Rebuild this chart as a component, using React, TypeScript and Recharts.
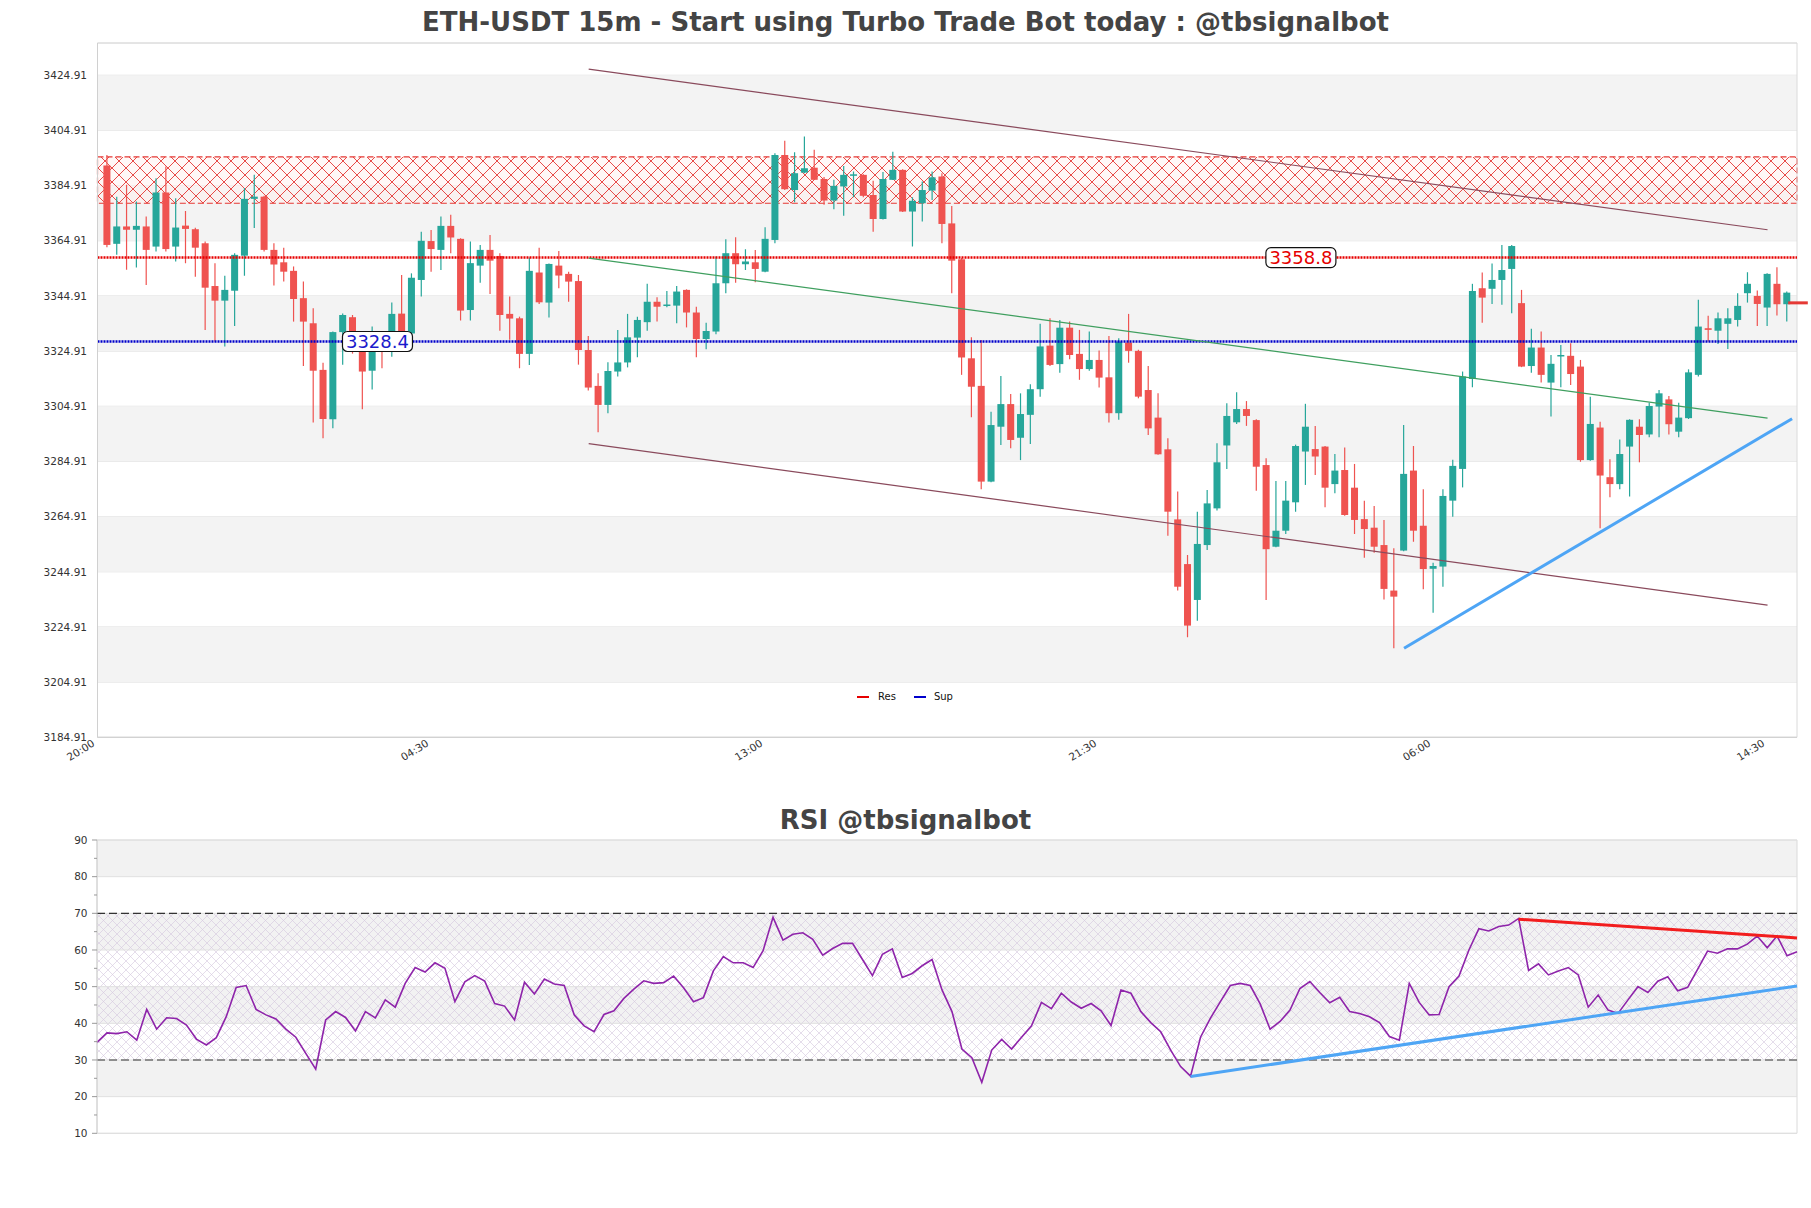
import React from "react";
import {
  ComposedChart,
  Bar,
  Line,
  XAxis,
  YAxis,
  CartesianGrid,
  ReferenceArea,
  ReferenceLine,
  ReferenceDot,
} from "recharts";

// ---- price data (15m candles, index 1..172) ----
const opens = [
  3392.2, 3363.8, 3370.1, 3368.9, 3370.1, 3362.8, 3382.4, 3362.8, 3370.4, 3369.1,
  3364.0, 3348.5, 3343.2, 3346.8, 3359.5, 3380.1, 3380.9, 3361.6, 3357.1, 3354.0,
  3344.1, 3335.0, 3318.1, 3300.2, 3331.8, 3337.2, 3326.0, 3317.8, 3327.2, 3325.6,
  3338.5, 3331.3, 3350.7, 3364.8, 3361.6, 3370.3, 3365.6, 3339.8, 3355.9, 3361.6,
  3359.4, 3338.4, 3336.8, 3323.9, 3353.4, 3342.5, 3355.9, 3352.9, 3350.3, 3325.3,
  3312.3, 3305.4, 3317.5, 3320.8, 3329.8, 3335.4, 3342.8, 3341.5, 3341.4, 3347.1,
  3338.9, 3329.3, 3332.0, 3349.5, 3360.4, 3356.4, 3357.1, 3353.7, 3365.2, 3396.0,
  3383.3, 3389.6, 3391.4, 3387.3, 3379.5, 3384.6, 3388.6, 3388.8, 3381.5, 3372.8,
  3387.0, 3390.6, 3375.5, 3378.5, 3383.1, 3388.2, 3371.2, 3358.2, 3322.3, 3312.3,
  3277.6, 3297.5, 3305.7, 3293.5, 3301.8, 3311.1, 3326.9, 3320.2, 3333.4, 3323.9,
  3318.4, 3321.7, 3315.4, 3302.4, 3328.0, 3325.0, 3310.8, 3300.8, 3289.3, 3263.9,
  3247.7, 3234.7, 3254.6, 3267.9, 3290.7, 3299.1, 3303.9, 3299.9, 3283.6, 3254.0,
  3259.8, 3270.1, 3288.5, 3289.4, 3290.3, 3276.7, 3281.8, 3275.4, 3264.0, 3260.9,
  3254.6, 3238.1, 3252.6, 3281.6, 3261.6, 3246.0, 3246.8, 3270.7, 3282.2, 3314.8,
  3347.7, 3347.5, 3350.7, 3354.7, 3342.3, 3319.5, 3326.2, 3313.5, 3323.2, 3323.2,
  3319.3, 3285.4, 3297.2, 3279.2, 3276.7, 3290.3, 3297.5, 3294.7, 3304.8, 3307.4,
  3295.7, 3300.6, 3316.3, 3333.2, 3332.3, 3334.8, 3336.2, 3345.9, 3344.9, 3340.7,
  3349.3, 3341.9,
];
const highs = [
  3396.0, 3380.9, 3385.2, 3379.1, 3373.7, 3387.6, 3391.8, 3380.3, 3375.7, 3369.6,
  3364.6, 3356.8, 3352.2, 3360.4, 3384.0, 3388.8, 3381.2, 3364.0, 3362.4, 3355.6,
  3350.1, 3340.4, 3320.7, 3332.0, 3338.5, 3338.0, 3327.0, 3333.8, 3330.0, 3342.5,
  3352.5, 3353.1, 3368.2, 3368.8, 3373.7, 3374.3, 3365.8, 3364.6, 3363.4, 3367.0,
  3360.4, 3344.7, 3337.4, 3358.8, 3362.4, 3356.7, 3361.2, 3353.7, 3352.5, 3330.4,
  3316.9, 3320.9, 3332.6, 3338.4, 3337.4, 3349.3, 3344.4, 3346.7, 3348.5, 3347.3,
  3341.0, 3335.2, 3359.2, 3365.5, 3366.2, 3361.8, 3361.6, 3369.8, 3396.6, 3401.2,
  3397.0, 3402.7, 3397.9, 3388.0, 3387.0, 3392.0, 3390.0, 3389.0, 3386.7, 3389.8,
  3397.2, 3390.8, 3380.7, 3386.4, 3390.0, 3389.4, 3377.5, 3358.6, 3329.9, 3328.9,
  3302.9, 3315.9, 3309.4, 3309.6, 3312.9, 3334.8, 3336.8, 3336.2, 3335.6, 3332.6,
  3332.0, 3325.1, 3330.4, 3329.6, 3338.4, 3325.4, 3319.5, 3309.6, 3293.3, 3274.0,
  3251.0, 3266.7, 3274.6, 3291.5, 3306.0, 3310.0, 3306.8, 3300.2, 3286.1, 3277.8,
  3277.8, 3291.0, 3305.8, 3297.8, 3290.5, 3287.6, 3290.0, 3284.0, 3270.7, 3268.8,
  3263.7, 3253.4, 3298.1, 3290.5, 3274.8, 3248.2, 3274.8, 3285.5, 3317.5, 3349.3,
  3353.4, 3356.7, 3363.4, 3363.4, 3347.1, 3333.0, 3332.0, 3323.5, 3327.1, 3327.8,
  3321.7, 3308.4, 3299.3, 3285.7, 3292.9, 3300.2, 3300.2, 3306.2, 3310.8, 3308.6,
  3306.2, 3318.3, 3343.5, 3337.7, 3338.9, 3340.4, 3345.9, 3353.5, 3346.9, 3353.1,
  3355.3, 3346.5,
];
const lows = [
  3362.6, 3359.8, 3354.4, 3355.2, 3348.9, 3361.0, 3361.0, 3357.4, 3356.8, 3351.9,
  3332.6, 3328.4, 3326.6, 3334.0, 3352.2, 3369.5, 3361.0, 3348.7, 3350.1, 3335.6,
  3319.5, 3299.0, 3293.3, 3296.9, 3320.0, 3324.0, 3303.8, 3311.0, 3318.7, 3322.9,
  3328.0, 3329.0, 3344.7, 3353.7, 3354.3, 3360.4, 3336.0, 3336.0, 3349.7, 3345.6,
  3332.3, 3329.0, 3318.7, 3319.9, 3342.0, 3337.1, 3347.7, 3342.8, 3320.0, 3310.6,
  3295.5, 3302.4, 3315.7, 3319.0, 3322.7, 3332.3, 3335.6, 3340.8, 3335.0, 3333.5,
  3322.7, 3325.6, 3331.0, 3345.9, 3349.7, 3354.3, 3349.9, 3353.5, 3364.0, 3383.3,
  3378.9, 3389.4, 3386.9, 3378.0, 3376.3, 3374.0, 3380.7, 3380.7, 3368.2, 3372.6,
  3386.9, 3375.3, 3362.8, 3371.9, 3379.7, 3364.0, 3345.9, 3316.3, 3300.9, 3274.8,
  3277.4, 3290.9, 3289.7, 3285.4, 3291.2, 3308.4, 3319.5, 3317.1, 3322.0, 3314.5,
  3317.8, 3311.7, 3299.0, 3300.0, 3320.7, 3307.8, 3294.5, 3287.3, 3258.0, 3238.1,
  3221.2, 3227.2, 3252.8, 3267.1, 3282.2, 3298.5, 3297.8, 3274.3, 3234.7, 3253.8,
  3258.6, 3266.7, 3276.4, 3280.0, 3268.3, 3273.4, 3265.2, 3258.6, 3250.0, 3251.8,
  3234.9, 3217.2, 3252.4, 3255.8, 3238.6, 3230.1, 3239.5, 3264.9, 3275.5, 3311.8,
  3335.2, 3342.0, 3341.7, 3338.6, 3319.1, 3317.1, 3313.5, 3301.2, 3311.8, 3312.6,
  3284.8, 3285.2, 3260.7, 3271.9, 3274.8, 3272.2, 3284.6, 3293.7, 3293.7, 3294.7,
  3293.7, 3300.3, 3315.7, 3328.4, 3327.5, 3325.7, 3333.8, 3342.5, 3334.0, 3334.0,
  3337.8, 3335.6,
];
const closes = [
  3363.4, 3370.1, 3368.9, 3370.3, 3361.6, 3382.4, 3361.9, 3369.7, 3369.2, 3362.4,
  3347.9, 3343.2, 3347.1, 3359.8, 3380.1, 3380.9, 3361.6, 3356.3, 3353.7, 3343.8,
  3335.6, 3317.8, 3300.3, 3331.8, 3338.0, 3326.0, 3317.5, 3330.8, 3325.3, 3338.4,
  3331.0, 3351.5, 3364.9, 3361.9, 3370.3, 3366.1, 3339.6, 3356.8, 3361.6, 3357.7,
  3338.0, 3336.7, 3323.9, 3354.0, 3342.6, 3356.5, 3352.3, 3350.1, 3325.3, 3311.7,
  3305.4, 3317.7, 3320.8, 3329.9, 3336.2, 3342.8, 3341.0, 3341.8, 3346.5, 3338.9,
  3329.3, 3332.2, 3349.5, 3360.4, 3356.4, 3357.4, 3354.7, 3365.6, 3396.0, 3383.6,
  3389.4, 3391.2, 3387.0, 3379.5, 3384.8, 3388.8, 3389.0, 3381.2, 3372.8, 3387.3,
  3390.6, 3375.5, 3379.4, 3383.3, 3387.9, 3371.0, 3357.7, 3322.6, 3312.0, 3277.6,
  3298.1, 3305.7, 3292.7, 3302.1, 3311.1, 3326.6, 3319.9, 3333.4, 3323.5, 3318.4,
  3321.7, 3315.3, 3302.4, 3328.4, 3325.0, 3308.4, 3296.9, 3287.5, 3266.7, 3239.5,
  3225.4, 3255.0, 3269.7, 3284.6, 3301.4, 3303.9, 3301.4, 3283.0, 3253.1, 3259.8,
  3270.7, 3290.5, 3297.5, 3286.7, 3275.4, 3281.6, 3265.5, 3263.7, 3260.4, 3254.0,
  3238.7, 3235.9, 3280.4, 3259.8, 3245.9, 3247.0, 3272.4, 3283.3, 3315.7, 3346.7,
  3344.3, 3350.7, 3354.3, 3363.0, 3319.3, 3326.2, 3316.3, 3320.3, 3323.5, 3316.6,
  3285.4, 3298.5, 3279.8, 3276.7, 3287.6, 3300.0, 3294.5, 3305.0, 3309.6, 3298.4,
  3300.8, 3317.2, 3333.8, 3332.6, 3336.8, 3336.8, 3341.3, 3349.3, 3342.0, 3352.9,
  3341.9, 3346.1,
];

const priceTicks = [
  3184.91, 3204.91, 3224.91, 3244.91, 3264.91, 3284.91, 3304.91,
  3324.91, 3344.91, 3364.91, 3384.91, 3404.91, 3424.91,
];
const timeTicks = [0, 34, 68, 102, 136, 170];
const timeLabels = ["20:00", "04:30", "13:00", "21:30", "06:00", "14:30"];

const resLevel = 3358.8;
const supLevel = 3328.4;
const resZone = [3378.5, 3395.3];
const lastPrice = 3342.4;

// drawn lines, in (candle index, price)
const channelTop = [{ x: 50, y: 3427.1 }, { x: 170, y: 3368.9 }];
const channelMid = [{ x: 50, y: 3358.6 }, { x: 170, y: 3300.6 }];
const channelBottom = [{ x: 50, y: 3291.4 }, { x: 170, y: 3232.8 }];
const supportTrend = [{ x: 133, y: 3217.2 }, { x: 172.5, y: 3300.4 }];

// ---- RSI ----
const rsiValues = [
  34.8, 37.4, 37.2, 37.7, 35.4, 43.8, 38.4, 41.5, 41.3, 39.5,
  35.7, 34.1, 36.1, 41.8, 49.8, 50.3, 43.8, 42.3, 41.2, 38.4,
  36.2, 31.8, 27.5, 40.9, 43.2, 41.6, 37.9, 43.2, 41.5, 46.4,
  44.4, 50.9, 55.2, 54.0, 56.5, 55.0, 45.9, 51.3, 53.0, 51.5,
  45.4, 44.7, 40.9, 51.2, 48.0, 52.1, 50.7, 50.3, 42.3, 39.3,
  37.7, 42.4, 43.4, 46.8, 49.3, 51.6, 50.9, 51.1, 52.9, 49.7,
  45.9, 47.0, 54.3, 58.2, 56.5, 56.5, 55.2, 59.8, 68.9, 62.7,
  64.3, 64.7, 62.9, 58.6, 60.4, 61.8, 61.8, 57.4, 53.0, 58.8,
  60.3, 52.5, 53.6, 55.7, 57.4, 49.1, 43.2, 33.0, 30.6, 23.9,
  32.7, 35.6, 33.0, 36.2, 39.3, 45.7, 44.0, 48.2, 45.8, 44.1,
  45.4, 43.4, 39.4, 49.1, 48.2, 43.2, 40.2, 37.7, 32.7, 28.2,
  25.6, 36.2, 41.4, 45.9, 50.3, 50.9, 50.3, 45.3, 38.4, 40.5,
  43.6, 49.5, 51.4, 48.4, 45.6, 47.1, 43.2, 42.7, 41.8, 40.2,
  36.4, 35.4, 50.9, 45.7, 42.3, 42.4, 50.0, 52.9, 60.0, 65.8,
  65.2, 66.4, 66.8, 68.6, 54.4, 56.2, 53.2, 54.3, 55.2, 53.2,
  44.4, 47.7, 43.6, 42.7, 46.4, 50.0, 48.4, 51.5, 52.7, 48.9,
  49.8, 54.7, 59.7, 59.1, 60.3, 60.3, 61.6, 63.8, 60.6, 63.8,
  58.4, 59.5,
];
const rsiTicks = [10, 15, 20, 25, 30, 35, 40, 45, 50, 55, 60, 65, 70, 75, 80, 85, 90];
const rsiUpper = 70;
const rsiLower = 30;
const rsiTopTrend = [{ x: 144, y: 68.4 }, { x: 172, y: 63.3 }];
const rsiBottomTrend = [{ x: 111, y: 25.5 }, { x: 172, y: 50.2 }];

const candles = opens.map((open, idx) => ({
  i: idx + 1,
  open,
  high: highs[idx],
  low: lows[idx],
  close: closes[idx],
  range: [lows[idx], highs[idx]],
}));

const rsiData = rsiValues.map((rsi, k) => ({ i: k + 1, rsi }));

const priceBands = priceTicks
  .map((t, k) => (k % 2 === 1 && k + 1 < priceTicks.length ? [t, priceTicks[k + 1]] : null))
  .filter(Boolean) as number[][];

const rsiMajor = rsiTicks.filter((t) => t % 10 === 0);
const rsiBands = rsiMajor
  .map((t, k) => (k % 2 === 1 && k + 1 < rsiMajor.length ? [t, rsiMajor[k + 1]] : null))
  .filter(Boolean) as number[][];

const FONT = "DejaVu Sans";
const UP = "#26a69a";
const DOWN = "#ef5350";

const CandleShape = (props: any) => {
  const { x, y, width, height } = props;
  const d = props.payload ?? props;
  if (d == null || y == null || height == null) return null;
  const top = Math.min(y, y + height);
  const h = Math.abs(height);
  const cx = x + width / 2;
  const k = d.high > d.low ? h / (d.high - d.low) : 0;
  const py = (v: number) => top + (d.high - v) * k;
  const color = d.close >= d.open ? UP : DOWN;
  const bTop = py(Math.max(d.open, d.close));
  const bBot = py(Math.min(d.open, d.close));
  return (
    <g>
      <line x1={cx} x2={cx} y1={top} y2={top + h} stroke={color} strokeWidth={1.2} />
      <rect x={cx - 3.5} y={bTop} width={7} height={Math.max(bBot - bTop, 1.5)} fill={color} />
    </g>
  );
};

const LevelTag = ({ cx, cy, value, color }: any) => (
  <g>
    <rect x={cx - 35} y={cy - 10} width={70} height={20} rx={5} fill="#fff" stroke="#111" strokeWidth={1.2} />
    <text x={cx} y={cy} dy="0.36em" textAnchor="middle" fontSize={18} fontFamily={FONT} fill={color}>
      {value.toFixed(1)}
    </text>
  </g>
);

const TimeTick = ({ x, y, payload }: any) => {
  const label = timeLabels[timeTicks.indexOf(payload.value)];
  return (
    <text
      transform={`translate(${x - 2},${y + 6}) rotate(-32)`}
      textAnchor="end"
      fontSize={10.5}
      fontFamily={FONT}
      fill="#333"
    >
      {label}
    </text>
  );
};

const RsiTick = ({ x, y, payload }: any) => {
  const v = payload.value;
  const major = v % 10 === 0;
  return (
    <g>
      <line x1={x - (major ? 5 : 3)} x2={x} y1={y} y2={y} stroke="#999" />
      {major && (
        <text x={x - 9.5} y={y} dy="0.35em" textAnchor="end" fontSize={10.5} fontFamily={FONT} fill="#333">
          {v}
        </text>
      )}
    </g>
  );
};

const titleStyle: React.CSSProperties = {
  position: "absolute",
  left: 0,
  width: 1811,
  textAlign: "center",
  fontFamily: FONT,
  fontWeight: "bold",
  fontSize: 26,
  lineHeight: "30px",
  color: "#444",
};

const App: React.FC = () => {
  return (
    <div style={{ position: "absolute", left: 0, top: 0, width: 1811, height: 1208, background: "#fff" }}>
      <div style={{ ...titleStyle, top: 7 }}>ETH-USDT 15m - Start using Turbo Trade Bot today : @tbsignalbot</div>

      <div style={{ position: "absolute", left: 0, top: 0 }}>
        <ComposedChart
          width={1811}
          height={790}
          data={candles}
          margin={{ top: 43, right: 14, left: 7.5, bottom: 12.7 }}
        >
          <defs>
            <pattern id="zoneHatch" patternUnits="userSpaceOnUse" width={14} height={14}>
              <rect width={14} height={14} fill="#fff1ef" fillOpacity={0.5} />
              <path d="M0,0 L14,14 M14,0 L0,14" stroke="#e53935" strokeWidth={0.9} />
            </pattern>
          </defs>
          {priceBands.map(([a, b]) => (
            <ReferenceArea key={a} y1={a} y2={b} fill="#f3f3f3" fillOpacity={1} stroke="none" />
          ))}
          <CartesianGrid vertical={false} stroke="#e0e0e0" />
          <ReferenceArea
            y1={resZone[0]}
            y2={resZone[1]}
            fill="url(#zoneHatch)"
            fillOpacity={1}
            stroke="#e53935"
            strokeDasharray="6 3"
            strokeWidth={1.2}
          />
          <ReferenceArea x1={0} x2={173} y1={3184.91} y2={3436.6} fill="none" stroke="#dadada" />
          <XAxis
            type="number"
            dataKey="i"
            domain={[0, 173]}
            ticks={timeTicks}
            interval={0}
            allowDataOverflow
            height={40}
            tickSize={0}
            tick={<TimeTick />}
            axisLine={{ stroke: "#d0d0d0" }}
          />
          <YAxis
            type="number"
            domain={[3184.91, 3436.6]}
            ticks={priceTicks}
            allowDataOverflow
            width={90}
            tickSize={0}
            tickMargin={10.5}
            tickFormatter={(v: number) => v.toFixed(2)}
            tick={{ fill: "#333", fontSize: 10.5, fontFamily: FONT }}
            axisLine={{ stroke: "#d0d0d0" }}
          />
          <ReferenceLine y={resLevel} stroke="#e60000" strokeWidth={2.5} strokeDasharray="2 1" />
          <ReferenceLine y={supLevel} stroke="#0000cc" strokeWidth={2.5} strokeDasharray="2 1" />
          <ReferenceLine segment={channelTop} stroke="#8a4a5c" strokeWidth={1.2} />
          <ReferenceLine segment={channelBottom} stroke="#8a4a5c" strokeWidth={1.2} />
          <ReferenceLine segment={channelMid} stroke="#3f9f5f" strokeWidth={1.2} />
          <Bar dataKey="range" barSize={7} shape={<CandleShape />} isAnimationActive={false} />
          <ReferenceLine segment={supportTrend} stroke="#4ea5f5" strokeWidth={3} />
          <ReferenceLine
            segment={[{ x: 172.1, y: lastPrice }, { x: 174.1, y: lastPrice }]}
            ifOverflow="visible"
            stroke="#e53935"
            strokeWidth={3}
          />
          <ReferenceDot
            x={122.5}
            y={resLevel}
            r={0}
            shape={(p: any) => <LevelTag cx={p.cx} cy={p.cy} value={resLevel} color="#e60000" />}
          />
          <ReferenceDot
            x={28.5}
            y={supLevel}
            r={0}
            shape={(p: any) => <LevelTag cx={p.cx} cy={p.cy} value={supLevel} color="#1a1acc" />}
          />
        </ComposedChart>
      </div>

      {/* legend */}
      <div
        style={{
          position: "absolute",
          left: 857,
          top: 689.5,
          display: "flex",
          alignItems: "center",
          fontFamily: FONT,
          fontSize: 10,
          lineHeight: "14px",
          color: "#111",
        }}
      >
        <span style={{ display: "inline-block", width: 12, height: 2, background: "#e60000", marginRight: 9 }} />
        Res
        <span
          style={{ display: "inline-block", width: 12, height: 2, background: "#0000cc", marginLeft: 18, marginRight: 8 }}
        />
        Sup
      </div>

      <div style={{ ...titleStyle, top: 805 }}>RSI @tbsignalbot</div>

      <div style={{ position: "absolute", left: 0, top: 790 }}>
        <ComposedChart
          width={1811}
          height={400}
          data={rsiData}
          margin={{ top: 50, right: 14, left: 7, bottom: 56.7 }}
        >
          <defs>
            <pattern id="rsiHatch" patternUnits="userSpaceOnUse" width={9} height={9}>
              <path d="M0,0 L9,9 M9,0 L0,9" stroke="#d3c6de" strokeWidth={0.6} />
            </pattern>
          </defs>
          {rsiBands.map(([a, b]) => (
            <ReferenceArea key={a} y1={a} y2={b} fill="#f2f2f2" fillOpacity={1} stroke="none" />
          ))}
          <ReferenceArea y1={rsiLower} y2={rsiUpper} fill="url(#rsiHatch)" fillOpacity={1} stroke="none" />
          {rsiMajor.map((t) => (
            <ReferenceLine key={`g${t}`} y={t} stroke="#e0e0e0" strokeWidth={1} />
          ))}
          <ReferenceArea x1={1} x2={172} y1={10} y2={90} fill="none" stroke="#dadada" />
          <XAxis type="number" dataKey="i" domain={[1, 172]} hide />
          <YAxis
            type="number"
            domain={[10, 90]}
            ticks={rsiTicks}
            interval={0}
            width={90}
            tickSize={0}
            tickMargin={0}
            tick={<RsiTick />}
            axisLine={{ stroke: "#d0d0d0" }}
          />
          <ReferenceLine y={rsiUpper} stroke="#333" strokeWidth={1.2} strokeDasharray="8 4" />
          <ReferenceLine y={rsiLower} stroke="#333" strokeWidth={1.2} strokeDasharray="8 4" />
          <Line
            type="linear"
            dataKey="rsi"
            stroke="#8e24aa"
            strokeWidth={1.6}
            dot={false}
            isAnimationActive={false}
          />
          <ReferenceLine segment={rsiTopTrend} stroke="#f21d1d" strokeWidth={3} />
          <ReferenceLine segment={rsiBottomTrend} stroke="#4ea5f5" strokeWidth={3} />
        </ComposedChart>
      </div>
    </div>
  );
};

export default App;
